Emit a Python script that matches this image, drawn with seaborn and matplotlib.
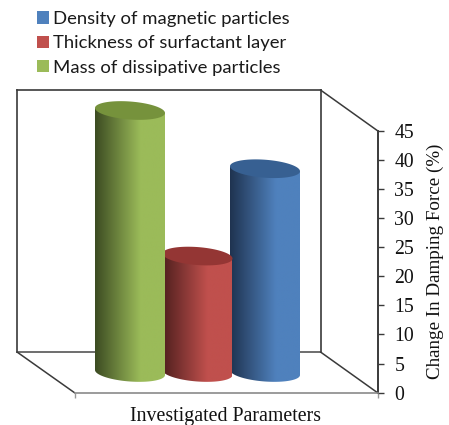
import numpy as np
import pandas as pd
import seaborn as sns
import matplotlib
matplotlib.use("Agg")
import matplotlib.pyplot as plt
from matplotlib.colors import LinearSegmentedColormap
from matplotlib.lines import Line2D
from matplotlib.patches import Patch, Polygon

parameters = ["Mass of dissipative particles", "Thickness of surfactant layer", "Density of magnetic particles"]
damping_change = [45, 20, 35]
legend_order = ["Density of magnetic particles", "Thickness of surfactant layer", "Mass of dissipative particles"]
face_colors = {"Density of magnetic particles": "#4f81bd",
               "Thickness of surfactant layer": "#c0504d",
               "Mass of dissipative particles": "#9bbb59"}
dark_colors = {"Density of magnetic particles": "#1f3350",
               "Thickness of surfactant layer": "#4f1f1e",
               "Mass of dissipative particles": "#3c4b22"}
cap_colors = {"Density of magnetic particles": "#376092",
              "Thickness of surfactant layer": "#943634",
              "Mass of dissipative particles": "#76923c"}

W, H = 449, 425
sns.set_theme(style="white")
plt.rcParams["font.family"] = ["Liberation Serif"]
fig = plt.figure(figsize=(W / 100, H / 100), dpi=100, facecolor="white")

def box(x0, y_top, x1, y_bot):
    return [x0 / W, 1 - y_bot / H, (x1 - x0) / W, (y_bot - y_top) / H]

LINE = "#3a3a3a"
# back wall
wall = fig.add_axes(box(17, 90, 320.5, 352))
wall.set_xticks([]); wall.set_yticks([])
for s in wall.spines.values():
    s.set_color(LINE); s.set_linewidth(1.2)
wall.spines["bottom"].set_color("#555555")

# front value axis
front = fig.add_axes(box(74.5, 130.7, 377.5, 392.7))
front.patch.set_alpha(0)
front.set_zorder(5)
front.set_xlim(0, 1); front.set_ylim(0, 45)
front.set_yticks(range(0, 50, 5))
front.set_xticks([0, 1]); front.set_xticklabels([])
front.yaxis.tick_right()
front.yaxis.set_label_position("right")
front.tick_params(axis="y", length=4.2, width=1.0, color=LINE, pad=8, labelsize=14.2,
                  labelcolor="#111111", right=True)
front.tick_params(axis="x", length=3.5, width=1.0, color="#999999", bottom=True)
for s in ["left", "top"]:
    front.spines[s].set_visible(False)
front.spines["right"].set_color(LINE); front.spines["right"].set_linewidth(1.4)
front.spines["bottom"].set_color("#8a8a8a"); front.spines["bottom"].set_linewidth(1.2)
front.set_ylabel("Change In Damping Force (%)", fontsize=13.7, color="#111111", labelpad=9)
front.set_xlabel("Investigated Parameters", fontsize=14.3, color="#111111", labelpad=3)

# slanted floor/side edges
for (xa, ya), (xb, yb), col in [((17, 352), (74.5, 392.7), LINE),
                                ((320.5, 352), (377.5, 392.7), LINE),
                                ((320.5, 90), (377.5, 130.7), LINE)]:
    fig.add_artist(Line2D([xa / W, xb / W], [1 - ya / H, 1 - yb / H], color=col, lw=1.1,
                          transform=fig.transFigure))

# bars on a transparent axes sharing the value scale
PX_PER_VAL = 262 / 45
PX_PER_CAT = 67.5
bars = fig.add_axes([0, 0, 1, 1])
bars.patch.set_alpha(0)
df = pd.DataFrame({"parameter": parameters, "change": damping_change})
sns.barplot(data=df, x="parameter", y="change", hue="parameter", palette=face_colors,
            order=parameters, hue_order=parameters, width=70 / PX_PER_CAT, dodge=False,
            legend=False, saturation=1, ax=bars)
bars.set_xlim((0 - 130) / PX_PER_CAT, (W - 130) / PX_PER_CAT)
bars.set_ylim((372.5 - H) / PX_PER_VAL, 372.5 / PX_PER_VAL)
bars.set_axis_off()

minor = 9 / PX_PER_VAL
tilt = 2.5 / PX_PER_VAL
ts = np.linspace(0, 2 * np.pi, 181)

for i, bar in enumerate(list(bars.patches)[:len(parameters)]):
    name = parameters[i]
    x0, w, v = bar.get_x(), bar.get_width(), bar.get_height()
    cx = x0 + w / 2
    bar.set_visible(False)
    z = 10 - 2 * i
    t_bot = np.linspace(np.pi, 2 * np.pi, 91)
    bx = cx + w / 2 * np.cos(t_bot)
    by = minor * np.sin(t_bot) - tilt * np.cos(t_bot)
    side_xy = np.column_stack([np.r_[cx - w / 2, bx, cx + w / 2],
                               np.r_[v + tilt, by, v - tilt]])
    side = Polygon(side_xy, closed=True, transform=bars.transData, fc="none", ec="none")
    bars.add_patch(side)
    cmap = LinearSegmentedColormap.from_list(
        name, [(0, dark_colors[name]), (0.65, face_colors[name]), (1, face_colors[name])])
    img = bars.imshow(np.linspace(0, 1, 256)[None, :], cmap=cmap, aspect="auto",
                      extent=(x0, x0 + w, -3, v + 3), zorder=z, interpolation="bilinear")
    img.set_clip_path(side)
    cap_x = cx + w / 2 * np.cos(ts)
    cap_y = v + minor * np.sin(ts) - tilt * np.cos(ts)
    bars.add_patch(Polygon(np.column_stack([cap_x, cap_y]), closed=True, fc=cap_colors[name],
                           ec="none", zorder=z + 0.5))

bars.set_xlim((0 - 130) / PX_PER_CAT, (W - 130) / PX_PER_CAT)
bars.set_ylim((372.5 - H) / PX_PER_VAL, 372.5 / PX_PER_VAL)

# legend
handles = [Patch(fc=face_colors[n], ec="none") for n in legend_order]
fig.legend(handles, legend_order, loc="upper left", bbox_to_anchor=(31 / W, 1 - 5.5 / H),
           frameon=False, prop={"family": "Lato", "size": 13.3}, handlelength=0.65,
           handleheight=0.65, handletextpad=0.25, labelspacing=0.45, borderpad=0.3,
           borderaxespad=0, labelcolor="#1a1a1a")

fig.savefig("out.png", dpi=100)
